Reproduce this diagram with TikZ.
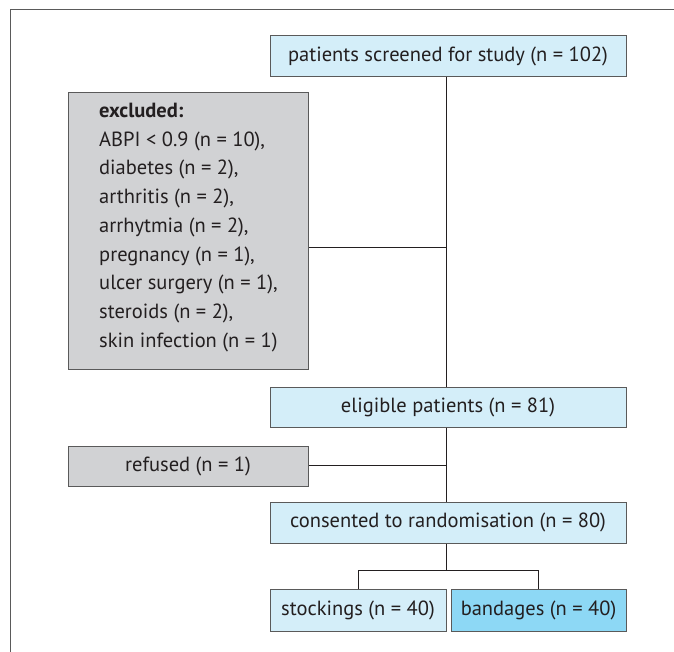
\documentclass[tikz,border=0pt]{standalone}
\usepackage{fontspec}
\setmainfont{PT Sans}
\definecolor{lblue}{HTML}{D4EEF9}
\definecolor{dblue}{HTML}{8DD8F5}
\definecolor{lgray}{HTML}{D1D2D4}
\definecolor{edge}{HTML}{5A5A5A}
\definecolor{txt}{HTML}{231F20}
\begin{document}
\begin{tikzpicture}[x=1pt,y=-1pt,
  box/.style={draw=edge,line width=1pt,inner sep=0pt,font=\fontsize{20.5}{24}\selectfont,text=txt},
  bluebox/.style={box,fill=lblue},
  darkbox/.style={box,fill=dblue},
  graybox/.style={box,fill=lgray},
  link/.style={draw=txt,line width=0.9pt}]
\useasboundingbox (0,0) rectangle (674,652);
\draw[line width=1pt,draw=edge] (10,652) -- (10,9.5) -- (674,9.5);
\node[bluebox,minimum width=356pt,minimum height=41pt] (screen) at (448,56.5) {patients screened for study (n = 102)};
\node[graybox,minimum width=240pt,minimum height=276pt] (excl) at (188,231) {};
\node[anchor=north west,align=left,text=txt,inner sep=0pt,font=\fontsize{20.5}{28.7}\selectfont] (excltext) at (99,103) {\textbf{excluded:}\\ABPI < 0.9 (n = 10),\\diabetes (n = 2),\\arthritis (n = 2),\\arrhytmia (n = 2),\\pregnancy (n = 1),\\ulcer surgery (n = 1),\\steroids (n = 2),\\skin infection (n = 1)};
\node[bluebox,minimum width=356pt,minimum height=40pt] (elig) at (448,407) {eligible patients (n = 81)};
\node[graybox,minimum width=240pt,minimum height=40pt] (ref) at (188,466) {refused (n = 1)};
\node[bluebox,minimum width=356pt,minimum height=41pt] (cons) at (448,522.5) {consented to randomisation (n = 80)};
\node[bluebox,minimum width=176pt,minimum height=42pt] (stock) at (358,610) {stockings (n = 40)};
\node[darkbox,minimum width=175pt,minimum height=42pt] (band) at (538.5,610) {bandages (n = 40)};
\coordinate (j1) at (446,247);
\coordinate (j2) at (446,465);
\coordinate (j3) at (446,570);
\draw[link] (screen.south -| j1) -- (elig.north -| j1);
\draw[link] (j1) -- (j1 -| excl.east);
\draw[link] (elig.south -| j2) -- (cons.north -| j2);
\draw[link] (j2) -- (j2 -| ref.east);
\draw[link] (cons.south -| j3) -- (j3);
\draw[link] (stock.north) -- (stock.north |- j3) -- (band.north |- j3) -- (band.north);
\end{tikzpicture}
\end{document}
